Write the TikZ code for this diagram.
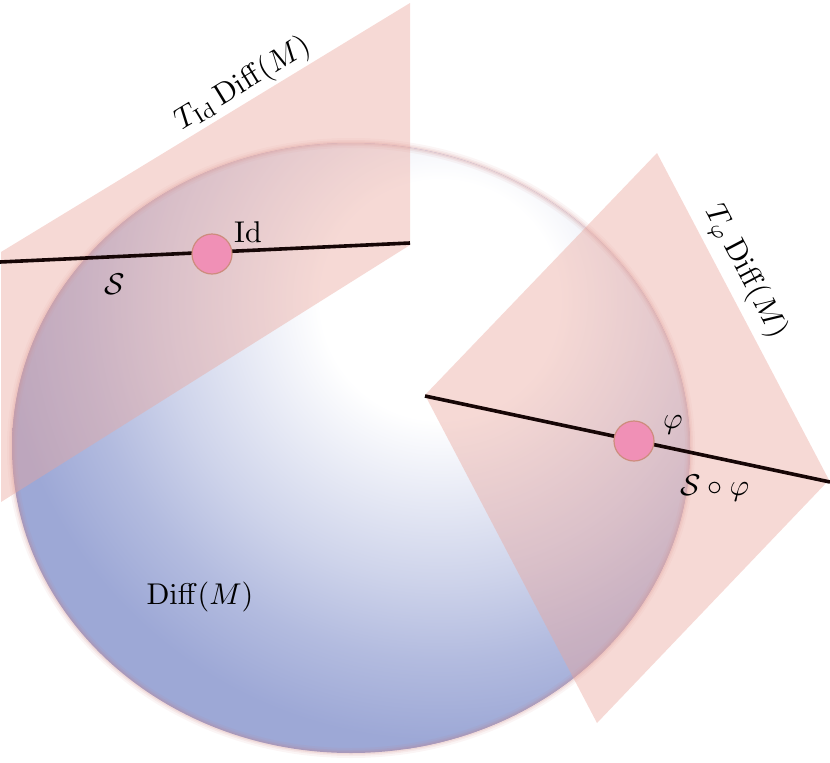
\documentclass[tikz,border=0pt]{standalone}
\definecolor{diskblue}{RGB}{157,168,214}
\colorlet{dbA}{diskblue!25!white}
\colorlet{dbB}{diskblue!50!white}
\colorlet{dbC}{diskblue!78!white}
\definecolor{planepink}{RGB}{234,165,155}
\definecolor{ringpink}{RGB}{200,120,120}
\definecolor{dotfill}{RGB}{240,144,182}
\definecolor{dotrim}{RGB}{205,140,125}
\definecolor{linedark}{RGB}{22,6,6}
\pgfdeclareradialshading{diskshade}{\pgfpoint{0bp}{0bp}}{color(0bp)=(white); color(13.3bp)=(white); color(22.2bp)=(dbA); color(31.1bp)=(dbB); color(40bp)=(dbC); color(48.9bp)=(diskblue); color(50bp)=(diskblue)}
\begin{document}
\begin{tikzpicture}[x=1pt,y=-1pt,
  lbl/.style={scale=3, inner sep=0pt},
  plane/.style={fill=planepink, fill opacity=0.42},
  sline/.style={draw=linedark, line width=3.6pt},
  dot/.style={circle, fill=dotfill, draw=dotrim, line width=1.2pt, minimum size=40pt, inner sep=0pt},
  ring/.style={draw=ringpink}]
\useasboundingbox (0,0) rectangle (830,763);
% the manifold Diff(M)
\begin{scope}
  \clip (351,448) ellipse [x radius=339, y radius=305];
  \fill[diskblue] (0,0) rectangle (830,763);
  \begin{pgfscope}
    \pgftransformshift{\pgfpointxy{440}{300}}
    \pgftransformscale{8.97}
    \pgflowlevelsynccm
    \pgfuseshading{diskshade}
  \end{pgfscope}
\end{scope}
\foreach \w/\o in {10/0.07, 6/0.1, 3/0.13}
  \draw[ring, opacity=\o, line width=\w pt] (351,448) ellipse [x radius=339, y radius=305];
% tangent planes
\coordinate (a1) at (1,252);
\coordinate (a2) at (410,3);
\coordinate (a3) at (410,245);
\coordinate (a4) at (1,502);
\fill[plane] (a1) -- (a2) -- (a3) -- (a4) -- cycle;
\coordinate (b1) at (425,395);
\coordinate (b2) at (657,153);
\coordinate (b3) at (829,480);
\coordinate (b4) at (597,723);
\fill[plane] (b1) -- (b2) -- (b3) -- (b4) -- cycle;
% curves S and S o phi
\coordinate (s1) at (0,262);
\coordinate (s2) at (410,243);
\draw[sline] (s1) -- (s2);
\coordinate (t1) at (425,396);
\coordinate (t2) at (830,482);
\draw[sline] (t1) -- (t2);
% points
\node[dot] (id) at (212,254) {};
\node[dot] (phi) at (634,441) {};
% labels
\node[lbl] (idl) at (248,232) {Id};
\node[lbl] (sl) at (115,284) {$\mathcal{S}$};
\node[lbl] (phil) at (673,425) {$\varphi$};
\node[lbl] (sphil) at (715,488) {$\mathcal{S}\circ\varphi$};
\node[lbl] (diffl) at (200,597) {$\mathrm{Diff}(M)$};
\node[lbl, rotate=31.4] (tidl) at (243,84) {$T_{\mathrm{Id}}\,\mathrm{Diff}(M)$};
\node[lbl, rotate=-62.4] (tphil) at (745,272) {$T_{\varphi}\,\mathrm{Diff}(M)$};
\end{tikzpicture}
\end{document}
